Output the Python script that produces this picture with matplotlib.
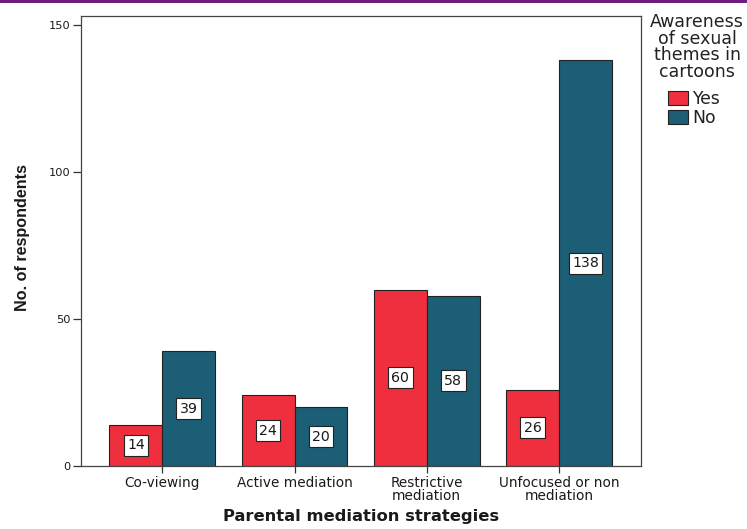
import matplotlib
matplotlib.use("Agg")
import matplotlib.pyplot as plt
from matplotlib.patches import Rectangle, Patch
import numpy as np

categories = ["Co-viewing", "Active mediation", "Restrictive\nmediation", "Unfocused or non\nmediation"]
yes_counts = [14, 24, 60, 26]
no_counts = [39, 20, 58, 138]
series_names = ["Yes", "No"]
legend_title = "Awareness\nof sexual\nthemes in\ncartoons"
yticks = [0, 50, 100, 150]

red = "#EF2F3D"
blue = "#1C5E75"
edge = "#222222"
text_col = "#1a1a1a"

plt.rcParams["font.family"] = ["DejaVu Sans"]

W, H = 747, 529
fig = plt.figure(figsize=(W / 100, H / 100), dpi=100)
ax = fig.add_axes([81 / W, 63 / H, (641 - 81) / W, (466 - 16) / H])

x = np.arange(len(categories))
w = 0.40
bars_yes = ax.bar(x - w / 2, yes_counts, width=w, color=red, edgecolor=edge, linewidth=0.8)
bars_no = ax.bar(x + w / 2, no_counts, width=w, color=blue, edgecolor=edge, linewidth=0.8)

# value labels in white boxes at mid-height of each bar
for bars, vals in ((bars_yes, yes_counts), (bars_no, no_counts)):
    for b, v in zip(bars, vals):
        ax.text(b.get_x() + b.get_width() / 2, v / 2, str(v), ha="center", va="center",
                fontsize=10.2, color=text_col,
                bbox=dict(boxstyle="square,pad=0.24", facecolor="white",
                          edgecolor="#222222", linewidth=0.8))

ax.set_xlim(-0.615, 3.62)
ax.set_ylim(0, 153.1)
ax.set_yticks(yticks)
ax.set_yticklabels([str(t) for t in yticks], fontsize=8.2, color=text_col)
ax.set_xticks(x)
ax.set_xticklabels(categories, fontsize=9.8, color=text_col, linespacing=0.9)
ax.tick_params(axis="y", direction="out", length=6, width=0.9, color="#333333", pad=1.5)
ax.tick_params(axis="x", direction="out", length=5, width=0.9, color="#333333", pad=2)
for s in ax.spines.values():
    s.set_color("#444444")
    s.set_linewidth(0.9)

ax.set_ylabel("No. of respondents", fontsize=11.6, fontweight="bold",
              family=["Liberation Sans", "DejaVu Sans"], color=text_col)
ax.yaxis.set_label_coords(-0.105, 0.508)
ax.yaxis.label.set_va("center")

ax.set_xlabel("Parental mediation strategies", fontsize=11.8, fontweight="bold", color=text_col)
ax.xaxis.set_label_coords(0.5, (466 - 517) / 450)
ax.xaxis.label.set_va("center")

# legend: centred title plus two swatches
fig.text(697 / W, 1 - 13 / H, legend_title, ha="center", va="top", fontsize=12.5,
         color="#222222", linespacing=0.9, multialignment="center")
handles = [Patch(facecolor=red, edgecolor=edge, linewidth=0.8),
           Patch(facecolor=blue, edgecolor=edge, linewidth=0.8)]
fig.legend(handles, series_names, loc="upper left", bbox_to_anchor=(668 / W, 1 - 90 / H),
           frameon=False, fontsize=12.4, handlelength=1.16, handleheight=0.93,
           handletextpad=0.25, labelspacing=0.05, borderpad=0, borderaxespad=0,
           labelcolor="#222222")

# purple rule along the top edge
fig.add_artist(Rectangle((0, 1 - 3 / H), 1, 3 / H, transform=fig.transFigure,
                         facecolor="#6C1D7E", edgecolor="none"))

fig.savefig("out.png", dpi=100)
